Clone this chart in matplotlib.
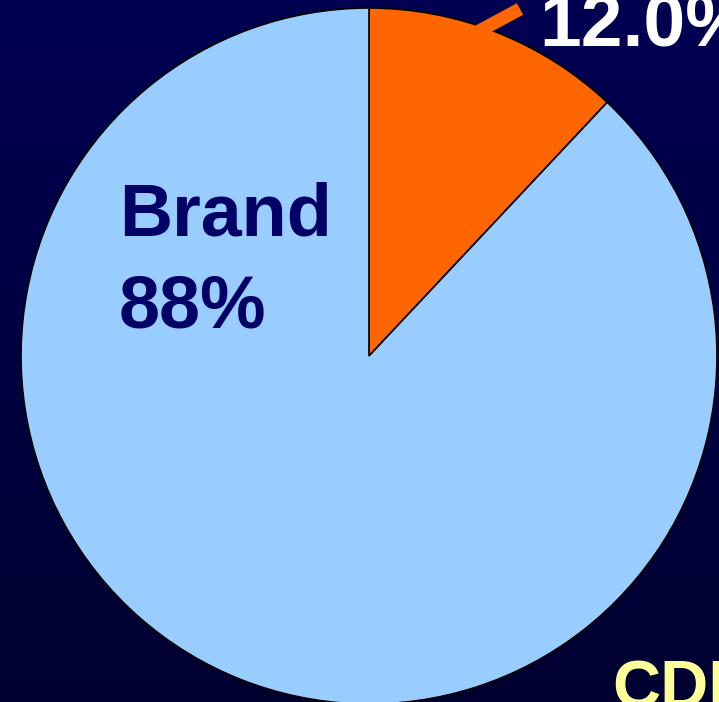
import numpy as np
import matplotlib
matplotlib.use("Agg")
import matplotlib.pyplot as plt
from matplotlib.colors import LinearSegmentedColormap

# data
labels = ["CDF", "Brand"]
shares = [12.0, 88.0]
colors = ["#FF6600", "#99CCFF"]

W, H = 719, 702
fig = plt.figure(figsize=(W / 100, H / 100), dpi=100)

# background gradient (navy, darker toward bottom)
bg = fig.add_axes([0, 0, 1, 1])
bg.axis("off")
cmap = LinearSegmentedColormap.from_list("bg", ["#000052", "#000030"])
grad = np.linspace(0, 1, 256).reshape(-1, 1)
bg.imshow(grad, aspect="auto", cmap=cmap, origin="upper", extent=[0, 1, 0, 1])
bg.set_xlim(0, 1)
bg.set_ylim(0, 1)

ax = fig.add_axes([0, 0, 1, 1])
ax.set_xlim(0, W)
ax.set_ylim(0, H)
ax.axis("off")
ax.patch.set_alpha(0)

cx, cy, r = 369, H - 356, 348
ax.pie(shares, colors=colors, startangle=90, counterclock=False,
       center=(cx, cy), radius=r,
       wedgeprops=dict(edgecolor="black", linewidth=1.2))
ax.set_xlim(0, W)
ax.set_ylim(0, H)

# leader line for the small slice
ax.plot([470, 520], [H - 36, H - 9], color="#FF6600", lw=9.5,
        solid_capstyle="butt", zorder=1)

font = "Liberation Sans"
ax.text(539, H - 45, f"{shares[0]:.1f}%", color="white", fontsize=54,
        fontweight="bold", family=font, ha="left", va="baseline")
ax.text(119, H - 235, labels[1], color="#000066",
        fontsize=53, fontweight="bold", family=font, ha="left", va="baseline")
ax.text(119, H - 327, f"{shares[1]:.0f}%", color="#000066",
        fontsize=53, fontweight="bold", family=font, ha="left", va="baseline")
ax.text(612, H - 708, labels[0], color="#FFFF99", fontsize=48,
        fontweight="bold", family=font, ha="left", va="baseline")

fig.savefig("out.png", dpi=100)
